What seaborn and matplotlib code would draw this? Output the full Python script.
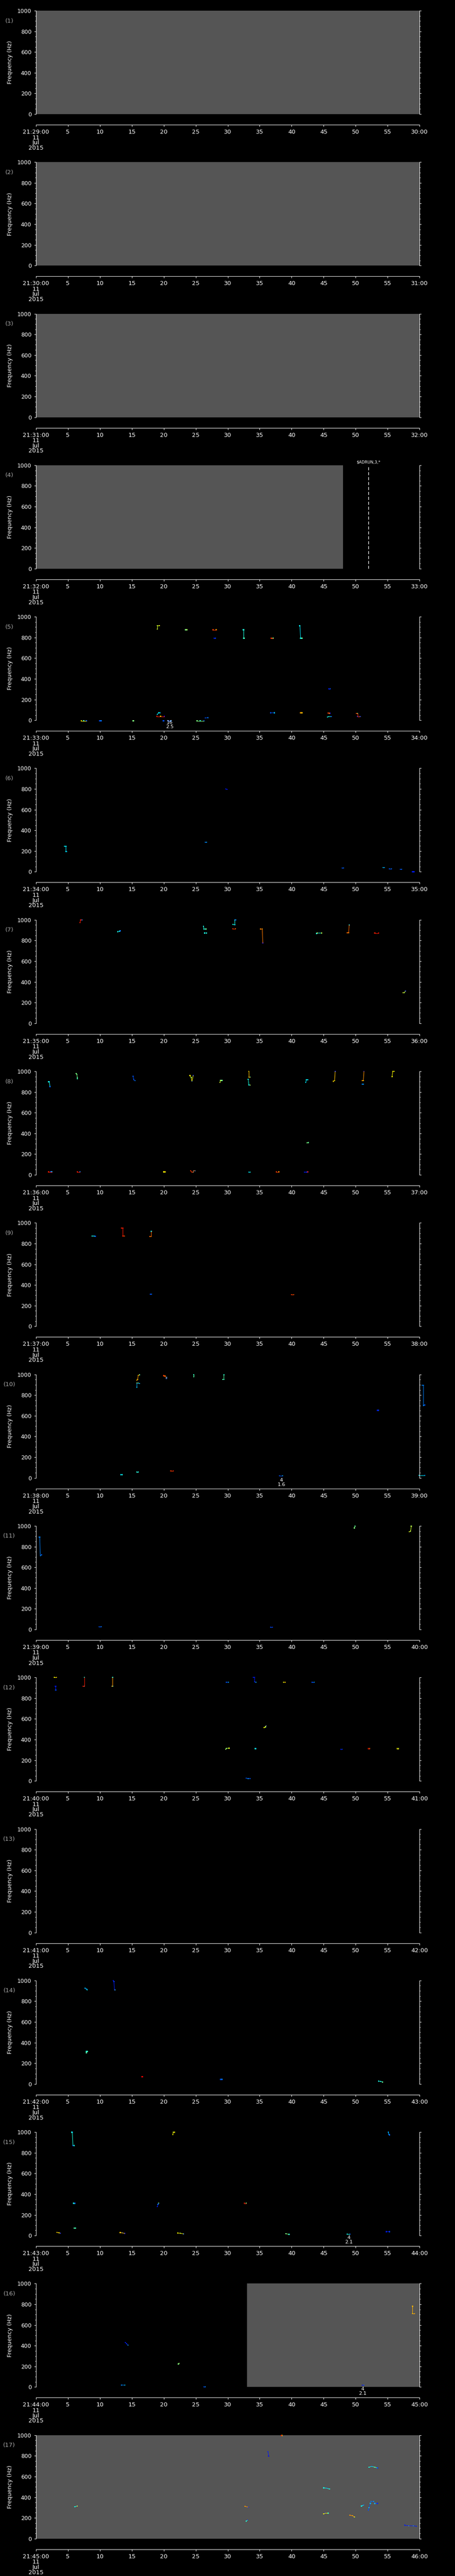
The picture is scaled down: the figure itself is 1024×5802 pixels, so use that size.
import numpy as np
import pandas as pd
import matplotlib
matplotlib.use("Agg")
import matplotlib.pyplot as plt
import matplotlib.transforms as mtrans
from matplotlib.ticker import MultipleLocator
import seaborn as sns

# one minute per panel, 17 panels, 11 Jul 2015 from 21:29
START_MIN = [29, 30, 31, 32, 33, 34, 35, 36, 37, 38, 39, 40, 41, 42, 43, 44, 45]
DATE_LINES = ["11", "Jul", "2015"]

# gray = data gap shading (seconds), per panel number
GRAY_PANEL = [1, 2, 3, 4, 16, 17]
GRAY_T0 = [0, 0, 0, 0, 33, 0]
GRAY_T1 = [60, 60, 60, 48, 60, 60]

# marker line in panel 4
MARK_PANEL = 4
MARK_T = 52
MARK_TEXT = "$ADRUN,3,*"

# small numbers printed under some low-frequency hits
ANNOT_PANEL = [5, 10, 15, 16]
ANNOT_T = [20.9, 38.4, 48.9, 51.1]
ANNOT_TOP = ["16", "4", "4", "4"]
ANNOT_BOT = ["2.5", "1.6", "2.1", "2.1"]

# detected traces: each trace is a list of (seconds, Hz, colour value 0..1 on jet)
P05 = [
    [(19.0, 881, .6), (19.0, 914, .6), (19.3, 914, .65)],
    [(23.4, 874, .5), (23.6, 874, .55)],
    [(27.7, 874, .85), (28.2, 874, .75)],
    [(27.9, 792, .15), (28.1, 792, .2)],
    [(32.4, 874, .38), (32.5, 874, .4), (32.5, 792, .4), (32.6, 792, .5)],
    [(36.8, 792, .85), (37.1, 792, .5)],
    [(41.2, 912, .35), (41.3, 912, .38), (41.4, 792, .38), (41.6, 792, .5)],
    [(45.8, 303, .15), (46.0, 303, .2)],
    [(36.7, 72, .2), (37.3, 72, .35)],
    [(41.4, 72, .75), (41.6, 72, .7)],
    [(45.7, 70, .85), (45.9, 68, .75), (46.0, 68, .15)],
    [(45.6, 32, .38), (45.8, 35, .3), (46.2, 35, .15)],
    [(50.1, 66, .85), (50.3, 66, .5), (50.3, 36, .15), (50.7, 36, .2)],
    [(19.0, 57, .35), (19.2, 72, .38), (19.4, 72, .3)],
    [(18.9, 37, .88), (19.5, 37, .65), (20.1, 37, .15)],
    [(26.5, 21, .2), (26.9, 25, .25)],
    [(7.1, -6, .65), (7.5, -6, .38), (7.9, -6, .2)],
    [(10.0, -6, .2), (10.2, -6, .25)],
    [(15.2, -6, .5), (15.3, -6, .5)],
    [(19.9, -6, .2), (20.0, -6, .2)],
    [(20.7, -6, .2), (21.1, -6, .25)],
    [(25.2, -6, .5), (25.7, -6, .38), (26.3, -6, .2)],
]
P06 = [
    [(4.5, 247, .35), (4.7, 247, .35), (4.7, 195, .35), (4.8, 195, .3)],
    [(29.7, 800, .15), (29.9, 796, .12)],
    [(26.5, 286, .25), (26.7, 286, .3)],
    [(47.9, 36, .2), (48.1, 36, .25)],
    [(54.3, 40, .3), (54.5, 40, .25)],
    [(55.3, 28, .2), (55.6, 28, .25)],
    [(57.0, 23, .2), (57.2, 23, .25)],
    [(58.9, 0, .15), (59.1, 0, .15)],
]
P07 = [
    [(6.9, 973, .88), (7.0, 1000, .88), (7.2, 1000, .25)],
    [(12.8, 886, .38), (13.1, 890, .3), (13.2, 894, .2)],
    [(26.2, 937, .38), (26.3, 911, .38), (26.6, 911, .5)],
    [(26.4, 873, .38), (26.7, 873, .4)],
    [(30.8, 912, .85), (31.2, 912, .75)],
    [(30.8, 955, .38), (31.1, 953, .3), (31.1, 1000, .15), (31.3, 1000, .15)],
    [(35.1, 911, .78), (35.4, 911, .75), (35.5, 775, .12)],
    [(43.9, 868, .38), (44.0, 872, .7), (44.7, 872, .65)],
    [(48.7, 875, .8), (48.9, 875, .75), (49.0, 950, .35)],
    [(53.0, 872, .88), (53.6, 872, .9)],
    [(57.4, 294, .6), (57.6, 296, .5), (57.8, 312, .15)],
]
P08 = [
    [(2.0, 900, .38), (2.1, 900, .3), (2.2, 853, .18)],
    [(6.3, 978, .5), (6.4, 970, .45), (6.5, 938, .38), (6.5, 928, .38)],
    [(15.2, 953, .2), (15.3, 920, .2), (15.5, 909, .25)],
    [(24.1, 959, .65), (24.3, 940, .45), (24.4, 905, .2), (24.6, 959, .15)],
    [(28.8, 894, .6), (28.9, 912, .5), (29.1, 912, .45)],
    [(33.3, 1000, .7), (33.3, 944, .75), (33.5, 944, .4)],
    [(33.2, 922, .38), (33.3, 870, .38), (33.5, 866, .6)],
    [(42.2, 894, .35), (42.3, 919, .38), (42.5, 919, .35)],
    [(42.4, 309, .5), (42.6, 312, .45)],
    [(46.5, 904, .7), (46.7, 910, .65), (46.8, 1000, .15)],
    [(51.0, 911, .75), (51.2, 911, .7), (51.3, 1000, .1)],
    [(51.0, 877, .25), (51.2, 877, .3)],
    [(55.7, 950, .65), (55.8, 1000, .65), (56.0, 1000, .65)],
    [(2.0, 28, .88), (2.3, 28, .2), (2.5, 28, .3)],
    [(6.5, 28, .88), (6.9, 28, .25)],
    [(20.0, 28, .65), (20.2, 28, .7)],
    [(24.2, 40, .85), (24.4, 25, .85), (24.6, 25, .38), (24.7, 40, .38), (24.9, 40, .3)],
    [(33.3, 25, .35), (33.5, 25, .38)],
    [(37.6, 28, .85), (38.0, 28, .75)],
    [(42.0, 25, .15), (42.3, 25, .2), (42.5, 28, .88)],
]
P09 = [
    [(8.8, 873, .38), (9.1, 873, .25), (9.3, 870, .15)],
    [(13.4, 951, .88), (13.6, 951, .88), (13.6, 873, .88), (13.8, 873, .8)],
    [(17.8, 869, .8), (18.0, 869, .75), (18.0, 917, .35), (18.1, 917, .35)],
    [(17.9, 311, .2), (18.1, 311, .25)],
    [(40.0, 306, .85), (40.3, 306, .8)],
]
P10 = [
    [(15.8, 942, .75), (15.9, 950, .7), (16.0, 990, .65), (16.2, 997, .45)],
    [(15.8, 877, .3), (15.8, 916, .6), (16.0, 916, .65), (16.2, 912, .3)],
    [(20.0, 987, .85), (20.2, 983, .75), (20.4, 970, .3), (20.4, 959, .25)],
    [(24.7, 977, .45), (24.7, 997, .4)],
    [(29.2, 950, .45), (29.4, 952, .38), (29.4, 997, .38)],
    [(53.4, 653, .15), (53.6, 653, .2)],
    [(60.4, 895, .25), (60.6, 895, .25), (60.6, 700, .25), (60.8, 705, .2)],
    [(59.9, 23, .35), (60.8, 23, .2)],
    [(13.3, 31, .35), (13.5, 31, .38)],
    [(15.8, 56, .4), (16.0, 56, .38)],
    [(21.1, 66, .85), (21.5, 66, .88)],
    [(38.1, 19, .2), (38.6, 19, .35)],
]
P11 = [
    [(0.5, 892, .25), (0.6, 892, .25), (0.7, 712, .25), (0.9, 720, .2)],
    [(49.8, 980, .5), (49.9, 997, .45)],
    [(58.4, 944, .6), (58.6, 950, .55), (58.7, 997, .55)],
    [(9.9, 25, .2), (10.2, 25, .25)],
    [(36.7, 22, .2), (37.0, 22, .15)],
]
P12 = [
    [(2.9, 1000, .65), (3.2, 1000, .75)],
    [(3.0, 914, .15), (3.1, 914, .15), (3.1, 878, .2)],
    [(7.4, 914, .88), (7.6, 914, .38), (7.6, 1000, .38)],
    [(11.9, 914, .75), (12.0, 914, .38), (12.0, 1000, .38)],
    [(29.8, 955, .2), (30.1, 953, .35)],
    [(34.0, 1000, .15), (34.2, 1000, .15), (34.2, 958, .2), (34.4, 953, .38)],
    [(38.7, 955, .65), (39.0, 953, .75)],
    [(43.2, 953, .2), (43.5, 953, .35)],
    [(35.7, 516, .65), (35.9, 522, .5), (36.0, 534, .15)],
    [(29.7, 305, .55), (29.8, 314, .5), (30.2, 317, .65)],
    [(34.3, 312, .38), (34.4, 312, .3)],
    [(47.7, 306, .15), (47.9, 306, .2)],
    [(52.0, 312, .88), (52.2, 312, .8)],
    [(56.5, 312, .65), (56.7, 312, .6)],
    [(32.9, 27, .2), (33.2, 23, .35), (33.5, 23, .2)],
]
P14 = [
    [(7.7, 927, .3), (7.9, 918, .25), (8.0, 912, .35)],
    [(12.1, 998, .15), (12.2, 990, .2), (12.3, 908, .5), (12.4, 908, .45)],
    [(7.9, 302, .45), (7.9, 314, .38), (8.1, 314, .4)],
    [(16.6, 70, .92), (16.7, 70, .9)],
    [(28.9, 44, .2), (29.1, 44, .25)],
    [(53.6, 27, .38), (53.9, 25, .4), (54.2, 19, .5)],
]
P15 = [
    [(5.6, 998, .38), (5.7, 998, .3), (5.8, 869, .12), (6.0, 869, .38)],
    [(21.4, 975, .65), (21.5, 998, .6), (21.7, 998, .65)],
    [(55.1, 998, .3), (55.2, 980, .25), (55.3, 972, .2)],
    [(5.9, 311, .38), (6.1, 311, .2)],
    [(19.0, 280, .15), (19.1, 300, .3), (19.2, 311, .5)],
    [(32.6, 311, .88), (32.9, 311, .5)],
    [(3.3, 31, .7), (3.6, 27, .65), (3.8, 23, .15)],
    [(6.0, 72, .45), (6.2, 72, .4)],
    [(13.2, 29, .7), (13.5, 25, .2), (13.9, 20, .12)],
    [(22.2, 24, .65), (22.6, 21, .5), (23.1, 16, .2)],
    [(39.1, 17, .5), (39.6, 11, .38)],
    [(48.7, 13, .38), (49.1, 13, .2)],
    [(54.8, 37, .15), (55.3, 37, .2)],
]
P16 = [
    [(14.0, 430, .15), (14.2, 418, .2), (14.4, 404, .4)],
    [(22.3, 222, .5), (22.4, 228, .55)],
    [(13.4, 20, .25), (13.9, 18, .35)],
    [(26.3, 1, .2), (26.5, 1, .3)],
    [(58.9, 780, .72), (58.9, 709, .72), (59.2, 709, .75)],
    [(51.0, 19, .15), (51.3, 19, .25)],
]
P17 = [
    [(6.1, 309, .38), (6.5, 315, .75)],
    [(32.7, 311, .75), (33.2, 304, .15)],
    [(32.9, 168, .4), (33.1, 178, .15)],
    [(36.3, 841, .15), (36.4, 798, .12)],
    [(38.4, 997, .88), (38.5, 997, .65)],
    [(45.0, 490, .38), (45.5, 487, .15), (45.9, 480, .38)],
    [(45.0, 239, .65), (45.2, 245, .15), (45.7, 245, .38)],
    [(49.1, 225, .75), (49.5, 222, .7), (49.8, 210, .6)],
    [(50.9, 315, .38), (51.1, 320, .2), (51.3, 325, .15)],
    [(52.1, 690, .38), (52.5, 698, .15), (53.0, 690, .6), (53.4, 683, .15)],
    [(52.0, 275, .2), (52.1, 300, .38), (52.3, 340, .38), (52.4, 360, .38),
     (52.8, 360, .38), (53.0, 340, .4), (53.4, 340, .15)],
    [(57.7, 129, .15), (58.3, 124, .5), (59.0, 123, .4), (59.5, 120, .15)],
]
TRACES = {5: P05, 6: P06, 7: P07, 8: P08, 9: P09, 10: P10, 11: P11, 12: P12,
          14: P14, 15: P15, 16: P16, 17: P17}

sns.set_theme(style="dark")
plt.rcParams["font.family"] = ["DejaVu Sans"]
plt.rcParams["text.color"] = "white"

W, H = 1024, 5802
PITCH = H / 17
LEFT, RIGHT = 80.7, 944.3
PH = 233          # plot height in px
jet = matplotlib.colormaps["jet"]

fig = plt.figure(figsize=(W / 100, H / 100), dpi=100, facecolor="black")

for i, m in enumerate(START_MIN):
    pnum = i + 1
    top = 24 + i * PITCH
    ax = fig.add_axes([LEFT / W, 1 - (top + PH) / H, (RIGHT - LEFT) / W, PH / H])
    ax.set_facecolor("black")

    for gp, g0, g1 in zip(GRAY_PANEL, GRAY_T0, GRAY_T1):
        if gp == pnum:
            ax.axvspan(g0, g1, color="#555555", lw=0, zorder=0)

    if pnum in TRACES:
        rows = []
        for k, tr in enumerate(TRACES[pnum]):
            for t, f, c in tr:
                rows.append({"t": t, "f": f, "c": c, "trace": k})
        df = pd.DataFrame(rows)
        first_c = df.groupby("trace")["c"].first()
        pal = {k: jet(v) for k, v in first_c.items()}
        sns.lineplot(data=df, x="t", y="f", hue="trace", palette=pal, estimator=None,
                     sort=False, legend=False, lw=0.8, ax=ax, clip_on=False)
        sns.scatterplot(data=df, x="t", y="f", hue="c", palette=jet, hue_norm=(0, 1),
                        marker="s", s=3, linewidth=0, legend=False, ax=ax, clip_on=False)

    ax.set_xlim(0, 60)
    ax.set_ylim(0, 1000)

    if pnum == MARK_PANEL:
        ax.axvline(MARK_T, color="white", lw=1, ls=(0, (5, 3)))
        ax.text(MARK_T, 1.01, MARK_TEXT,
                transform=mtrans.blended_transform_factory(ax.transData, ax.transAxes),
                ha="center", va="bottom", fontsize=6.5, color="white")

    for ap, at, a1, a2 in zip(ANNOT_PANEL, ANNOT_T, ANNOT_TOP, ANNOT_BOT):
        if ap == pnum:
            ax.annotate(a1, xy=(at, 0), xytext=(0, -3.6), textcoords="offset points",
                        ha="center", va="center", fontsize=8, color="white", annotation_clip=False)
            ax.annotate(a2, xy=(at, 0), xytext=(0, -10.8), textcoords="offset points",
                        ha="center", va="center", fontsize=8, color="white", annotation_clip=False)

    ax.set_xlabel("")
    ax.set_ylabel("")
    ax.set_xticks([])
    ax.set_yticks(range(0, 1001, 200))
    ax.yaxis.set_minor_locator(MultipleLocator(50))
    ax.tick_params(axis="y", which="both", left=True, right=True, direction="out",
                   colors="white", labelsize=9, pad=4, width=0.75)
    ax.tick_params(axis="y", which="major", length=3.2)
    ax.tick_params(axis="y", which="minor", length=1.7)
    ax.grid(False)
    for s in ["top", "bottom"]:
        ax.spines[s].set_visible(False)
    for s in ["left", "right"]:
        ax.spines[s].set_visible(True)
        ax.spines[s].set_color("white")
        ax.spines[s].set_linewidth(0.75)

    fig.text(21 / W, 1 - (top + 23) / H, f"({pnum})", ha="center", va="center",
             fontsize=9.5, color="#a8a8a8")
    fig.text(23 / W, 1 - (top + PH / 2) / H, "Frequency (Hz)", rotation=90,
             ha="center", va="center", fontsize=9.3, color="white")

    # separate time axis under each panel
    axt = fig.add_axes([LEFT / W, 1 - (top + 257) / H, (RIGHT - LEFT) / W, 0.00001])
    axt.set_facecolor("black")
    axt.set_xlim(0, 60)
    axt.set_yticks([])
    axt.grid(False)
    for s in ["top", "left", "right"]:
        axt.spines[s].set_visible(False)
    axt.spines["bottom"].set_visible(True)
    axt.spines["bottom"].set_color("white")
    axt.spines["bottom"].set_linewidth(0.75)
    labels = [f"21:{m:02d}:00"] + [str(v) for v in range(5, 60, 5)] + [f"{m + 1:02d}:00"]
    axt.set_xticks(range(0, 61, 5))
    axt.set_xticklabels(labels)
    axt.tick_params(axis="x", bottom=True, direction="out", length=3.2, width=0.75,
                    colors="white", labelsize=9.5, pad=4)
    for j, d in enumerate(DATE_LINES):
        fig.text(LEFT / W, 1 - (top + 286 + 11.7 * j) / H, d, ha="center", va="center",
                 fontsize=9.5, color="white")

fig.savefig("out.png", dpi=100, facecolor="black")
